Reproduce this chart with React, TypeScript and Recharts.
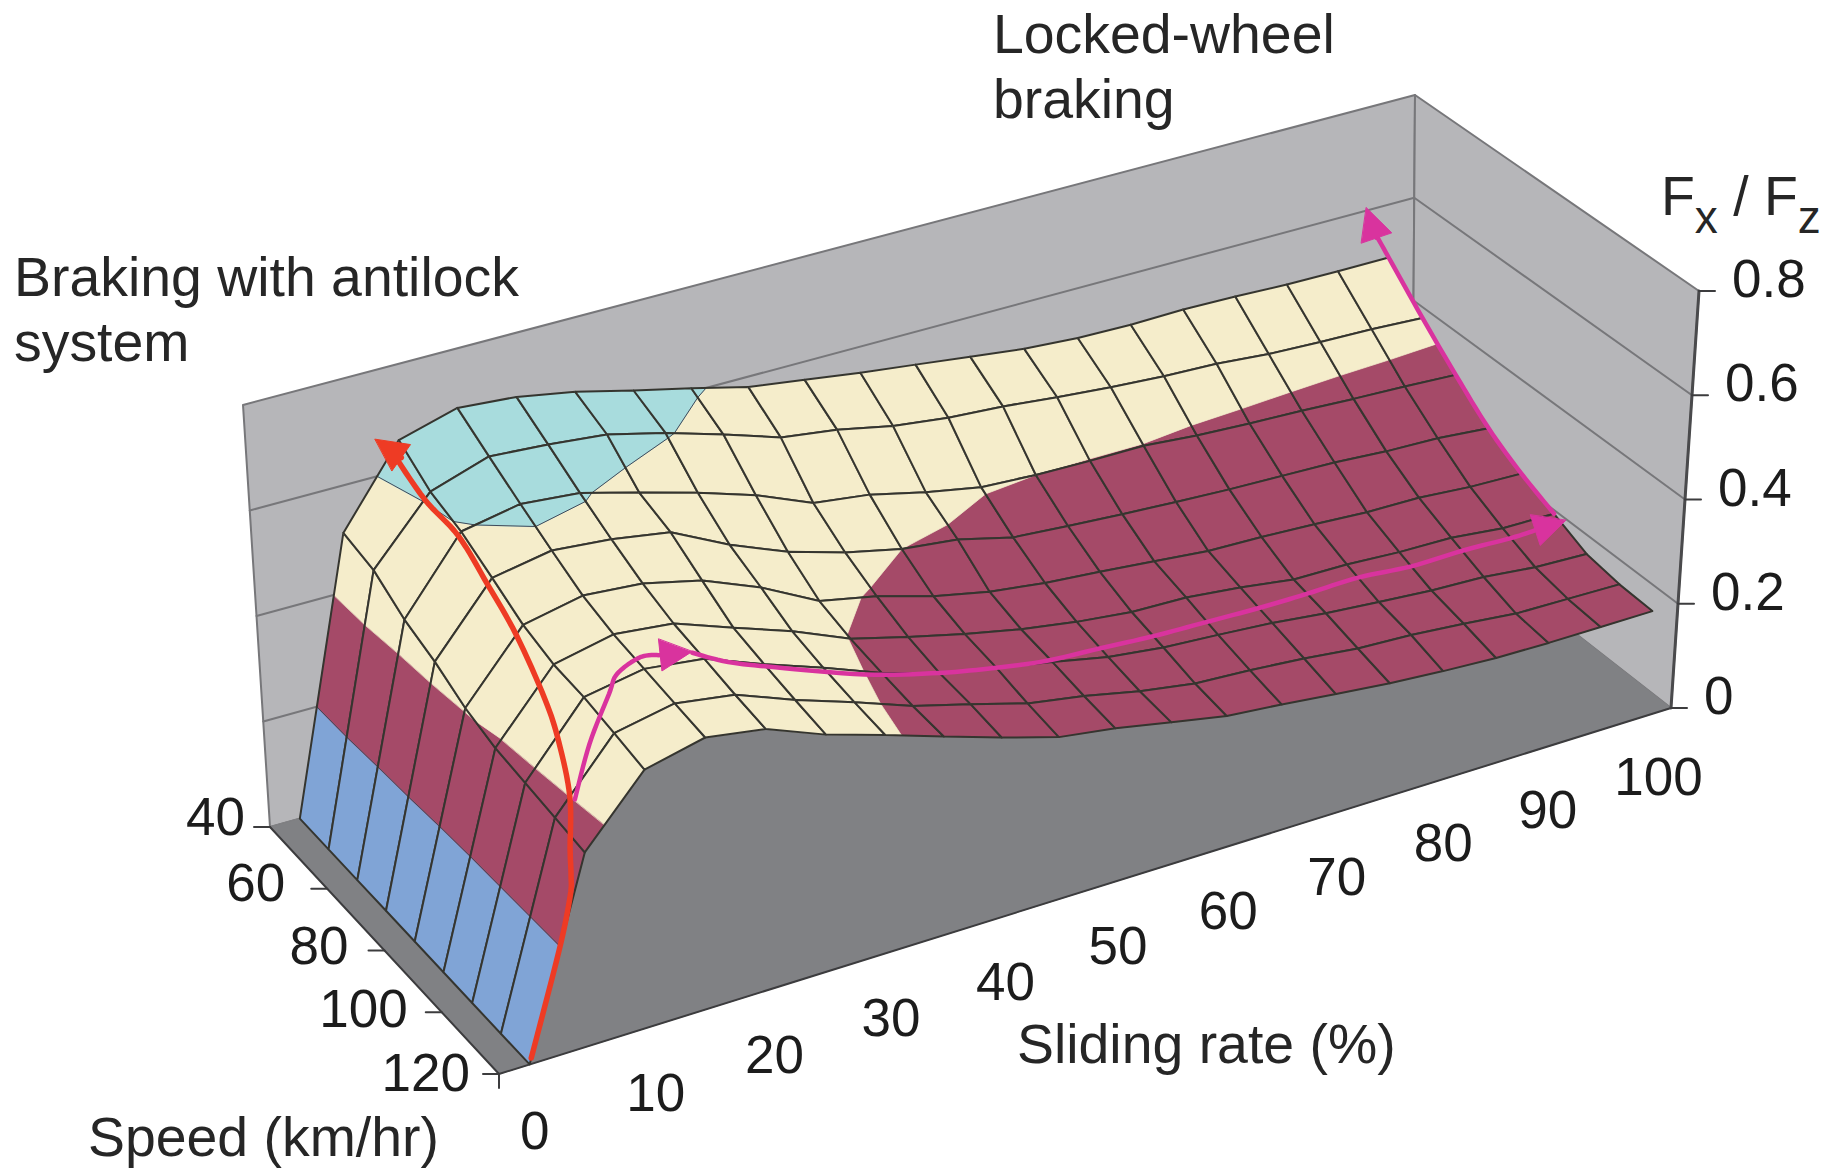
import React from "react";
import { ScatterChart, Scatter, XAxis, YAxis } from "recharts";

// sliding rate columns and speed rows of the surface
const slidingRates = [0, 5, 10, 15, 20, 25, 30, 35, 40, 45, 50, 55, 60, 65, 70, 75, 80, 85, 90, 95, 100];
const speeds = [40, 50, 60, 70, 80, 90, 100, 110, 120];

// Fx/Fz, one list per speed
const fx40 = [0, 0.511, 0.657, 0.688, 0.679, 0.659, 0.632, 0.607, 0.58, 0.565, 0.55, 0.537, 0.524, 0.511, 0.504, 0.502, 0.504, 0.502, 0.498, 0.497, 0.497];
const fx50 = [0, 0.497, 0.615, 0.651, 0.643, 0.632, 0.605, 0.572, 0.537, 0.522, 0.5, 0.487, 0.48, 0.469, 0.46, 0.453, 0.449, 0.44, 0.436, 0.433, 0.428];
const fx60 = [0, 0.46, 0.595, 0.616, 0.606, 0.576, 0.545, 0.51, 0.465, 0.451, 0.426, 0.406, 0.4, 0.398, 0.398, 0.389, 0.384, 0.38, 0.375, 0.371, 0.366];
const fx70 = [0, 0.437, 0.563, 0.583, 0.573, 0.555, 0.5, 0.456, 0.424, 0.4, 0.388, 0.362, 0.354, 0.347, 0.341, 0.336, 0.333, 0.33, 0.323, 0.32, 0.311];
const fx80 = [0, 0.406, 0.53, 0.553, 0.544, 0.518, 0.473, 0.416, 0.394, 0.363, 0.341, 0.327, 0.318, 0.308, 0.298, 0.295, 0.29, 0.284, 0.283, 0.275, 0.272];
const fx90 = [0, 0.387, 0.511, 0.535, 0.523, 0.483, 0.444, 0.398, 0.37, 0.344, 0.322, 0.305, 0.293, 0.29, 0.279, 0.264, 0.263, 0.257, 0.255, 0.244, 0.243];
const fx100 = [0, 0.378, 0.505, 0.525, 0.511, 0.468, 0.429, 0.387, 0.355, 0.333, 0.312, 0.29, 0.277, 0.27, 0.262, 0.25, 0.241, 0.233, 0.229, 0.218, 0.214];
const fx110 = [0, 0.369, 0.493, 0.515, 0.498, 0.455, 0.418, 0.378, 0.349, 0.318, 0.3, 0.277, 0.26, 0.254, 0.245, 0.233, 0.228, 0.219, 0.208, 0.206, 0.204];
const fx120 = [0, 0.36, 0.48, 0.506, 0.488, 0.444, 0.41, 0.374, 0.339, 0.307, 0.291, 0.27, 0.25, 0.24, 0.228, 0.217, 0.209, 0.203, 0.201, 0.201, 0.201];
const surface = [fx40, fx50, fx60, fx70, fx80, fx90, fx100, fx110, fx120];

// tick labels
const slideTicks = [0, 10, 20, 30, 40, 50, 60, 70, 80, 90, 100];
const speedTicks = [40, 60, 80, 100, 120];
const fxTicks = [0, 0.2, 0.4, 0.6, 0.8];

// arrows as [sliding rate, speed] points on the surface
const redArrow = [[0.15, 120], [2.7, 120], [3.9, 119.2], [4.3, 118], [4.75, 116], [6.25, 110], [7.6, 101], [8.5, 92.9], [9.4, 80], [9.6, 70], [9.75, 60], [9.5, 50], [9.4, 40], [9, 36]];
const magentaShort = [[6.35, 111.3], [8.7, 106.9], [11.65, 101.7], [13.15, 98.4], [15.45, 96.9], [19.55, 97.7]];
const magentaLong = [[19.5, 98], [21.9, 100.3], [25.75, 100.7], [33.25, 101], [40, 100], [45, 100], [49.5, 99.5], [55, 97.5], [60, 96.8], [65, 96.5], [70, 95.8], [75, 94.2], [80, 93.5], [85, 93.7], [90, 93.3], [95, 92.5], [100.5, 92]];
const magentaEdge = [[100, 90], [100, 80], [100, 70], [100, 60], [100, 50], [100, 40], [100, 36], [100.5, 32]];

const W = 1841;
const H = 1169;
const FONT = "'Liberation Sans', Arial, sans-serif";

// box corners on screen: A back-left, B front-left, C front-right, D back-right
const floorA = [270, 827], floorB = [499, 1074], floorC = [1671, 708], floorD = [1412, 506];
const topA = [243, 405], topB = [483, 644], topC = [1699, 291], topD = [1415, 95];

const warp = (s: number) => (1.1 * s) / (1 + 0.1 * s);
const mix = (a: number[], b: number[], t: number) => [a[0] + (b[0] - a[0]) * t, a[1] + (b[1] - a[1]) * t];

// box position (0-1, 0-1) and Fx/Fz to chart x/y
function project(s: number, d: number, fx: number) {
  const sw = warp(s);
  const lo = mix(mix(floorA, floorD, sw), mix(floorB, floorC, sw), d);
  const hi = mix(mix(topA, topD, sw), mix(topB, topC, sw), d);
  return mix(lo, hi, fx / 0.8);
}
const slideToS = (slide: number) => (slide / 5 + 0.5) / slidingRates.length;
const speedToD = (speed: number) => (speed - speeds[0]) / (speeds[speeds.length - 1] - speeds[0]);

function surfaceAt(slide: number, speed: number) {
  const c = slide / 5;
  const r = (speed - 40) / 10;
  const j = Math.max(0, Math.min(19, Math.floor(c)));
  const i = Math.max(0, Math.min(7, Math.floor(r)));
  const u = c - j;
  const v = r - i;
  const a = surface[i][j] + (surface[i][j + 1] - surface[i][j]) * u;
  const b = surface[i + 1][j] + (surface[i + 1][j + 1] - surface[i + 1][j]) * u;
  return a + (b - a) * v;
}

type Vert = { x: number; y: number; z: number };
const bands = [
  { lo: 0, hi: 0.2, fill: "#80a4d6" },
  { lo: 0.2, hi: 0.4, fill: "#a54a68" },
  { lo: 0.4, hi: 0.6, fill: "#f5edcb" },
  { lo: 0.6, hi: 0.8, fill: "#a8dcdd" },
];

function clip(poly: Vert[], level: number, keepAbove: boolean) {
  const out: Vert[] = [];
  poly.forEach((p, k) => {
    const q = poly[(k + 1) % poly.length];
    const pIn = keepAbove ? p.z >= level : p.z <= level;
    const qIn = keepAbove ? q.z >= level : q.z <= level;
    if (pIn) out.push(p);
    if (pIn !== qIn) {
      const t = (level - p.z) / (q.z - p.z);
      out.push({ x: p.x + (q.x - p.x) * t, y: p.y + (q.y - p.y) * t, z: level });
    }
  });
  return out;
}

function contourSegment(quad: Vert[], level: number) {
  const hits: number[][] = [];
  quad.forEach((p, k) => {
    const q = quad[(k + 1) % quad.length];
    if (p.z >= level !== q.z >= level) {
      const t = (level - p.z) / (q.z - p.z);
      hits.push([p.x + (q.x - p.x) * t, p.y + (q.y - p.y) * t]);
    }
  });
  return hits;
}

type Mark = { px: number; py: number; pts: number[][]; fill: string; stroke: string; sw: number; open?: boolean };
const marks: Mark[] = [];
const addMark = (pts: number[][], fill: string, stroke: string, sw: number, open = false) =>
  marks.push({ px: pts[0][0], py: pts[0][1], pts, fill, stroke, sw, open });

const WALL = "#b6b6b9";
const WALL_LINE = "#77777a";
const GREY = "#808184";
const MESH = "#35352f";

// walls and floor
addMark([project(0, 0, 0), project(0, 0, 0.8), project(1, 0, 0.8), project(1, 0, 0)], WALL, WALL_LINE, 2);
addMark([project(1, 0, 0), project(1, 0, 0.8), project(1, 1, 0.8), project(1, 1, 0)], WALL, WALL_LINE, 2);
[0.2, 0.4, 0.6].forEach((v) => {
  addMark([project(0, 0, v), project(1, 0, v), project(1, 1, v)], "none", WALL_LINE, 2, true);
});
addMark([project(0, 0, 0), project(0, 1, 0), project(1, 1, 0), project(1, 0, 0)], GREY, GREY, 1);
addMark([project(0, 0, 0), project(0, 1, 0), project(1, 1, 0)], "none", "#3c3c3e", 2, true);
addMark([project(1, 1, 0), project(1, 1, 0.8)], "none", "#4a4a4c", 3, true);

// axis ticks
speedTicks.forEach((v) => {
  const p = project(0, speedToD(v), 0);
  addMark([p, [p[0] - 16, p[1]]], "none", "#3c3c3e", 2, true);
});
fxTicks.forEach((v) => {
  const p = project(1, 1, v);
  addMark([p, [p[0] + 16, p[1]]], "none", "#3c3c3e", 2, true);
});
const corner = project(0, 1, 0);
addMark([corner, [corner[0], corner[1] + 14]], "none", "#3c3c3e", 2, true);

// surface, back to front
for (let i = 0; i < speeds.length - 1; i++) {
  for (let j = 0; j < slidingRates.length - 1; j++) {
    const corners: [number, number][] = [[i, j], [i, j + 1], [i + 1, j + 1], [i + 1, j]];
    const quad: Vert[] = corners.map(([a, b]) => {
      const z = surface[a][b];
      const p = project(slideToS(slidingRates[b]), speedToD(speeds[a]), z);
      return { x: p[0], y: p[1], z };
    });
    bands.forEach((band) => {
      const piece = clip(clip(quad, band.lo, true), band.hi, false);
      if (piece.length > 2) addMark(piece.map((v) => [v.x, v.y]), band.fill, band.fill, 0.7);
    });
    [0.2, 0.6].forEach((level) => {
      const seg = contourSegment(quad, level);
      if (seg.length === 2) addMark(seg, "none", "#3f4a5a", 1, true);
    });
    addMark(quad.map((v) => [v.x, v.y]), "none", MESH, 2);
  }
}

// smooths a screen path between the read points
function smooth(pts: number[][]) {
  const out: number[][] = [];
  for (let k = 0; k < pts.length - 1; k++) {
    const p0 = pts[Math.max(0, k - 1)];
    const p1 = pts[k];
    const p2 = pts[k + 1];
    const p3 = pts[Math.min(pts.length - 1, k + 2)];
    for (let n = 0; n < 8; n++) {
      const t = n / 8;
      const f = (a: number, b: number, c: number, d: number) =>
        0.5 * (2 * b + (c - a) * t + (2 * a - 5 * b + 4 * c - d) * t * t + (3 * b - a - 3 * c + d) * t * t * t);
      out.push([f(p0[0], p1[0], p2[0], p3[0]), f(p0[1], p1[1], p2[1], p3[1])]);
    }
  }
  out.push(pts[pts.length - 1]);
  return out;
}

function addArrow(path: number[][], color: string, width: number, headLen: number, headHalf: number) {
  const pts = path.map(([sl, sp]) => project(slideToS(sl), speedToD(sp), surfaceAt(sl, sp)));
  const tip = pts[pts.length - 1];
  const prev = pts[pts.length - 2];
  const len = Math.hypot(tip[0] - prev[0], tip[1] - prev[1]) || 1;
  const ux = (tip[0] - prev[0]) / len;
  const uy = (tip[1] - prev[1]) / len;
  const base = [tip[0] - ux * headLen, tip[1] - uy * headLen];
  addMark(smooth([...pts.slice(0, -1), base]), "none", color, width, true);
  addMark(
    [tip, [base[0] - uy * headHalf, base[1] + ux * headHalf], [base[0] + uy * headHalf, base[1] - ux * headHalf]],
    color,
    color,
    1
  );
}
addArrow(redArrow, "#ee3b24", 5.5, 32, 16);
addArrow(magentaShort, "#d9339e", 4.5, 32, 16);
addArrow(magentaLong, "#d9339e", 4.5, 32, 16);
addArrow(magentaEdge, "#d9339e", 4.5, 32, 16);

// tick labels through the same projection
type Tick = { px: number; py: number; label: string; anchor: string };
const speedNudgeX = [5, -12, -6, -4, 1];
const speedNudgeY = [0, 4, 5, 7, 9];
const tickLabels: Tick[] = [
  ...slideTicks.map((v) => {
    const p = project(slideToS(v), 1, 0);
    return { px: p[0] + 5 + (v === 100 ? 8 : 0), py: p[1] + 85 - (v / 100) * 6, label: String(v), anchor: "middle" };
  }),
  ...speedTicks.map((v, k) => {
    const p = project(0, speedToD(v), 0);
    return { px: p[0] - 30 + speedNudgeX[k], py: p[1] + 8 + speedNudgeY[k], label: String(v), anchor: "end" };
  }),
  ...fxTicks.map((v) => {
    const p = project(1, 1, v);
    return { px: p[0] + 33, py: p[1] + 6, label: String(v), anchor: "start" };
  }),
];

const PolyShape = (props: any) => {
  const { cx, cy, payload } = props;
  const points = payload.pts.map((p: number[]) => `${cx + p[0] - payload.px},${cy + p[1] - payload.py}`).join(" ");
  const common = { points, fill: payload.fill, stroke: payload.stroke, strokeWidth: payload.sw, strokeLinejoin: "round" as const, strokeLinecap: "round" as const };
  return payload.open ? <polyline {...common} /> : <polygon {...common} />;
};

const TickShape = (props: any) => {
  const { cx, cy, payload } = props;
  return (
    <text x={cx} y={cy} textAnchor={payload.anchor} fontSize={53} fontFamily={FONT} fill="#1c1c1c">
      {payload.label}
    </text>
  );
};

const noteStyle = { fontSize: 55.4, fontFamily: FONT, fill: "#262626" };

export default function App() {
  return (
    <div style={{ position: "absolute", left: 0, top: 0, width: W, height: H, background: "#fff" }}>
      <ScatterChart width={W} height={H} margin={{ top: 0, right: 0, bottom: 0, left: 0 }}>
        <XAxis type="number" dataKey="px" domain={[0, W]} hide />
        <YAxis type="number" dataKey="py" domain={[0, H]} reversed hide />
        <Scatter data={marks} dataKey="py" shape={PolyShape} isAnimationActive={false} />
        <Scatter data={tickLabels} dataKey="py" shape={TickShape} isAnimationActive={false} />
        <text x={993} y={53} {...noteStyle}>Locked-wheel</text>
        <text x={993} y={118} {...noteStyle}>braking</text>
        <text x={14} y={296} {...noteStyle}>Braking with antilock</text>
        <text x={14} y={361} {...noteStyle}>system</text>
        <text x={1017} y={1063} {...noteStyle}>Sliding rate (%)</text>
        <text x={88} y={1156} {...noteStyle}>Speed (km/hr)</text>
        <text x={1661} y={215} {...noteStyle}>
          F<tspan dy={18} fontSize={46}>x</tspan>
          <tspan dy={-18}> / F</tspan>
          <tspan dy={18} fontSize={46}>z</tspan>
        </text>
      </ScatterChart>
    </div>
  );
}
